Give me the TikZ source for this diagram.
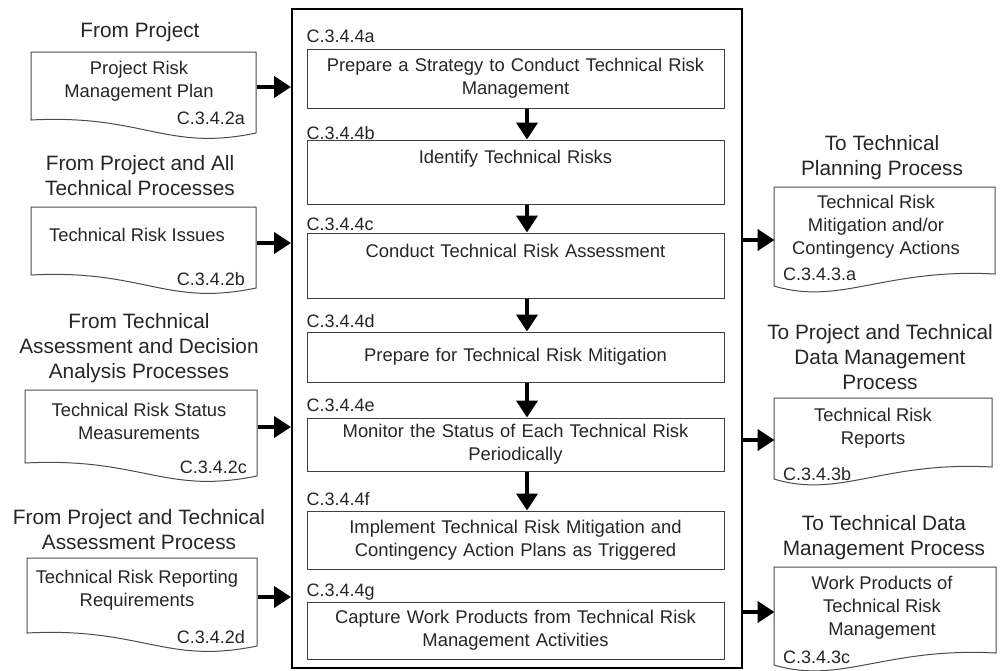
\documentclass[tikz,border=0pt]{standalone}
\usepackage{fontspec}
\setmainfont{Liberation Sans}
\usetikzlibrary{arrows.meta}
% left document: x1, x2, ytop, yhigh (left end of wavy bottom)
\newcommand\docLeft[4]{%
  \draw[docline] (#1,#3) -- (#2,#3) -- (#2,#4+13)
    .. controls ({#1+0.6*(#2-#1)},#4+32) and ({#1+0.5*(#2-#1)},#4-6) .. (#1,#4) -- cycle;}
% right document (mirrored): x1, x2, ytop, yhigh (right end of wavy bottom)
\newcommand\docRight[4]{%
  \draw[docline] (#1,#3) -- (#2,#3) -- (#2,#4)
    .. controls ({#2-0.5*(#2-#1)},#4-6) and ({#2-0.7*(#2-#1)},#4+32) .. (#1,#4+12) -- cycle;}
\begin{document}
\begin{tikzpicture}[x=1pt,y=-1pt,
  body/.style={font=\fontsize{18.4}{23}\selectfont, text=black!85, align=center, inner sep=0pt},
  title/.style={font=\fontsize{20.8}{25}\selectfont, text=black!85, align=center, inner sep=0pt},
  code/.style={font=\fontsize{18}{22}\selectfont, text=black!85, inner sep=0pt},
  docline/.style={draw=black!70, line width=1pt, fill=white},
  stepbox/.style={draw=black!75, line width=1pt, minimum width=417pt, inner sep=0pt,
     font=\fontsize{18.4}{23}\selectfont, text=black!85, align=center, text width=400pt},
  frame/.style={draw=black, line width=2pt, minimum width=450pt, minimum height=659pt, inner sep=0pt},
  arr/.style={line width=4pt, -{Triangle[length=17pt,width=21pt]}}
]
\useasboundingbox (0,0) rectangle (1000,670);
\clip (0,0) rectangle (1000,670);
\fill[white] (0,0) rectangle (1000,670);

% main frame
\node[frame] (frame) at (517,338.5) {};

% process steps
\node[stepbox, minimum height=59pt] (a) at (515.5,78.5) {Prepare a Strategy to Conduct Technical Risk\\Management};
\node[stepbox, minimum height=64pt] (b) at (515.5,172) {Identify Technical Risks\\ \strut};
\node[stepbox, minimum height=65pt] (c) at (515.5,265.5) {Conduct Technical Risk Assessment\\ \strut};
\node[stepbox, minimum height=50pt] (d) at (515.5,357) {Prepare for Technical Risk Mitigation};
\node[stepbox, minimum height=53pt] (e) at (515.5,444.5) {Monitor the Status of Each Technical Risk\\Periodically};
\node[stepbox, minimum height=58pt] (f) at (515.5,540) {Implement Technical Risk Mitigation and\\Contingency Action Plans as Triggered};
\node[stepbox, minimum height=57pt] (g) at (515.5,630.5) {Capture Work Products from Technical Risk\\Management Activities};

\node[code, anchor=base west] (la) at ([yshift=6pt]a.north west) {C.3.4.4a};
\node[code, anchor=base west] (lb) at ([yshift=0.5pt]b.north west) {C.3.4.4b};
\node[code, anchor=base west] (lc) at ([yshift=2pt]c.north west) {C.3.4.4c};
\node[code, anchor=base west] (ld) at ([yshift=4pt]d.north west) {C.3.4.4d};
\node[code, anchor=base west] (le) at ([yshift=6pt]e.north west) {C.3.4.4e};
\node[code, anchor=base west] (lf) at ([yshift=5pt]f.north west) {C.3.4.4f};
\node[code, anchor=base west] (lg) at ([yshift=5pt]g.north west) {C.3.4.4g};

\foreach \u/\v in {a/b,b/c,c/d,d/e,e/f}
  \draw[arr] ([xshift=11.5pt]\u.south) -- ([xshift=11.5pt]\v.north);

% left documents
\docLeft{31}{256}{52}{120}
\docLeft{31}{256}{207}{275}
\docLeft{25}{257}{390}{463}
\docLeft{27}{257}{558}{633}

\node[title] (t1) at (140,32) {From Project};
\node[title] (t2) at (140,175.5) {From Project and All\\Technical Processes};
\node[title] (t3) at (139,348.5) {From Technical\\Assessment and Decision\\Analysis Processes};
\node[title] (t4) at (139,529.5) {From Project and Technical\\Assessment Process};

\node[body] (d1) at (139,81.5) {Project Risk\\Management Plan};
\node[body] (d2) at (137,235) {Technical Risk Issues};
\node[body] (d3) at (139,421.5) {Technical Risk Status\\Measurements};
\node[body] (d4) at (137,590) {Technical Risk Reporting\\Requirements};

\node[code, anchor=east] (c1) at (245,118) {C.3.4.2a};
\node[code, anchor=east] (c2) at (245,279) {C.3.4.2b};
\node[code, anchor=east] (c3) at (247,467) {C.3.4.2c};
\node[code, anchor=east] (c4) at (245,637) {C.3.4.2d};

\coordinate (o1) at (256.5,87);
\coordinate (o2) at (256.5,243);
\coordinate (o3) at (257.5,427);
\coordinate (o4) at (257.5,597);
\foreach \o in {o1,o2,o3,o4}
  \draw[arr] (\o) -- (\o -| frame.west);

% right documents
\docRight{774}{995}{187}{274}
\docRight{774}{992}{398}{467}
\docRight{774}{996}{567}{653}

\node[title] (rt1) at (882,157.5) {To Technical\\Planning Process};
\node[title] (rt2) at (880,357.5) {To Project and Technical\\Data Management\\Process};
\node[title] (rt3) at (884,537.5) {To Technical Data\\Management Process};

\node[body] (r1) at (876,226.5) {Technical Risk\\Mitigation and/or\\Contingency Actions};
\node[body] (r2) at (873,428.5) {Technical Risk\\Reports};
\node[body] (r3) at (882,607.5) {Work Products of\\Technical Risk\\Management};

\node[code, anchor=west] (rc1) at (783,274) {C.3.4.3.a};
\node[code, anchor=west] (rc2) at (783,474) {C.3.4.3b};
\node[code, anchor=west] (rc3) at (783,657) {C.3.4.3c};

\coordinate (i1) at (774.5,240);
\coordinate (i2) at (774.5,440);
\coordinate (i3) at (774.5,612);
\foreach \i in {i1,i2,i3}
  \draw[arr] (\i -| frame.east) -- (\i);
\end{tikzpicture}
\end{document}
